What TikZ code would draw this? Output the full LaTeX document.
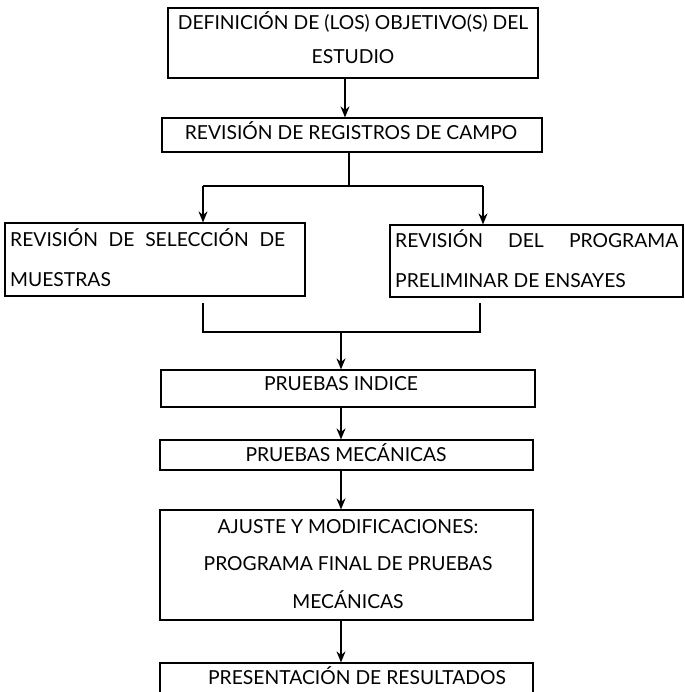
\documentclass[tikz,border=0pt]{standalone}
\usepackage{fontspec}
\setmainfont{Lato}
\usetikzlibrary{arrows.meta}
\begin{document}
\begin{tikzpicture}[x=1pt,y=-1pt,
  box/.style={draw,line width=1.2pt,inner sep=0pt},
  txt/.style={inner sep=0pt,font=\fontsize{19.3}{34}\selectfont,align=center},
  arr/.style={line width=1.5pt,-{Stealth[length=11pt,width=9pt]}},
  ln/.style={line width=1.2pt}]
\useasboundingbox (0,0) rectangle (684,692);
% boxes
\node[box,minimum width=370pt,minimum height=70pt] (b1) at (353,43) {};
\node[box,minimum width=380pt,minimum height=34pt] (b2) at (352,135) {};
\node[box,minimum width=300pt,minimum height=73pt] (b3) at (155,259.5) {};
\node[box,minimum width=293pt,minimum height=72pt] (b4) at (536.5,261) {};
\node[box,minimum width=374pt,minimum height=37pt] (b5) at (348,388.5) {};
\node[box,minimum width=373pt,minimum height=30pt] (b6) at (346.5,455) {};
\node[box,minimum width=373pt,minimum height=110pt] (b7) at (346.5,565) {};
\node[box,minimum width=373pt,minimum height=40pt] (b8) at (346.5,683) {};
% texts
\node[txt] (t1) at (353,38) {DEFINICIÓN DE (LOS) OBJETIVO(S) DEL\\ESTUDIO};
\node[txt] (t2) at (351,131) {REVISIÓN DE REGISTROS DE CAMPO};
\node[txt,align=left,anchor=west,font=\fontsize{19.3}{40}\selectfont] (t3) at (10,258) {\makebox[275pt][s]{REVISIÓN DE SELECCIÓN DE}\\MUESTRAS};
\node[txt,align=left,anchor=west,font=\fontsize{19.3}{40}\selectfont] (t4) at (395,259) {\makebox[283pt][s]{REVISIÓN DEL PROGRAMA}\\PRELIMINAR DE ENSAYES};
\node[txt] (t5) at (341,383.5) {PRUEBAS INDICE};
\node[txt] (t6) at (346,453) {PRUEBAS MECÁNICAS};
\node[txt,font=\fontsize{19.3}{37.5}\selectfont] (t7) at (348,564) {AJUSTE Y MODIFICACIONES:\\PROGRAMA FINAL DE PRUEBAS\\MECÁNICAS};
\node[txt] (t8) at (357,675.5) {PRESENTACIÓN DE RESULTADOS};
% connectors
\coordinate (c1) at (345,0);
\draw[arr] (b1.south -| c1) -- (b2.north -| c1);
\coordinate (sp) at (349,186);
\coordinate (sl) at (203,186);
\coordinate (sr) at (483,186);
\draw[ln] (b2.south -| sp) -- (sp);
\draw[ln] (sl) -- (sr);
\draw[arr] (sl) -- (b3.north -| sl);
\draw[arr] (sr) -- (b4.north -| sr);
\coordinate (ml) at (203,332);
\coordinate (mr) at (480,332);
\coordinate (mc) at (341,332);
\draw[ln] (ml |- 0,303) -- (ml) -- (mr) -- (mr |- 0,303);
\draw[arr] (mc) -- (b5.north -| mc);
\draw[arr] (b5.south -| mc) -- (b6.north -| mc);
\draw[arr] (b6.south -| mc) -- (b7.north -| mc);
\draw[arr] (b7.south -| mc) -- (b8.north -| mc);
\end{tikzpicture}
\end{document}
